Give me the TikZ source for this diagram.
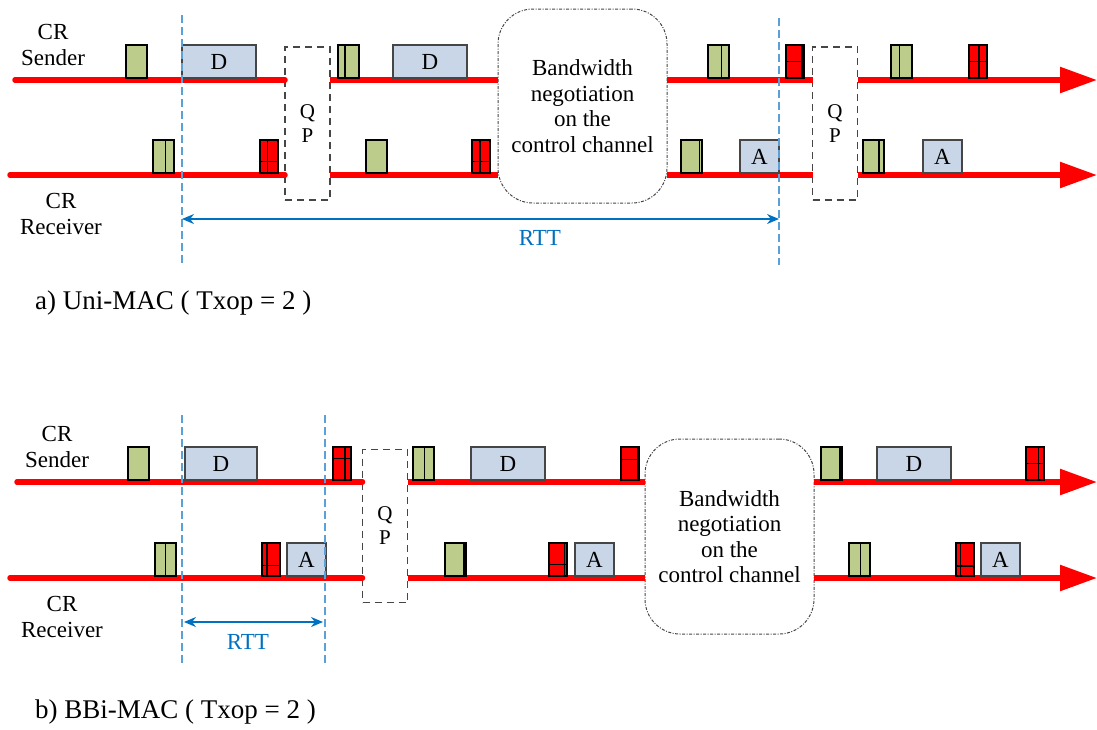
\documentclass[tikz,border=0pt]{standalone}
\usepackage{fontspec}
\setmainfont{Liberation Serif}
\definecolor{pktgreen}{RGB}{187,204,139}
\definecolor{pktblue}{RGB}{200,214,231}
\definecolor{rttblue}{RGB}{0,112,192}
\definecolor{markblue}{RGB}{91,160,215}
\definecolor{boxgrey}{RGB}{70,70,70}
\usepackage{tikz}
\usetikzlibrary{arrows.meta,positioning,calc}

\begin{document}
\begin{tikzpicture}[x=1pt,y=-1pt,
        lab/.style={font=\fontsize{23}{26}\selectfont,align=center,inner sep=0pt},
        caption/.style={font=\fontsize{27}{30}\selectfont,anchor=west,inner sep=0pt},
        pkt/.style={draw=black,line width=1.2pt,anchor=south west,inner sep=0pt,outer sep=0pt,
                    minimum height=33pt},
        gpkt/.style={pkt,fill=pktgreen,minimum width=21pt},
        gline/.style={path picture={\draw[line width=1.6pt]
            ($(path picture bounding box.south west)!#1!(path picture bounding box.south east)$) --
            ($(path picture bounding box.north west)!#1!(path picture bounding box.north east)$);}},
        rpkt/.style 2 args={pkt,fill=red,minimum width=18pt,path picture={
            \draw[line width=1.4pt]
            ($(path picture bounding box.south west)!#1!(path picture bounding box.south east)$) --
            ($(path picture bounding box.north west)!#1!(path picture bounding box.north east)$);
            \draw[line width=1.4pt]
            ($(path picture bounding box.north west)!#2!(path picture bounding box.south west)$) --
            ($(path picture bounding box.north east)!#2!(path picture bounding box.south east)$);}},
        dpkt/.style={pkt,draw=boxgrey,fill=pktblue,minimum width=74pt,
                     font=\fontsize{23}{26}\selectfont},
        apkt/.style={dpkt,minimum width=39pt},
        qpbox/.style={draw=boxgrey,line width=1.5pt,dash pattern=on 7pt off 5pt,
                      minimum width=45pt,minimum height=153pt,inner sep=0pt,outer sep=0pt,
                      align=center,font=\fontsize{21}{24}\selectfont},
        bwbox/.style={draw=boxgrey,line width=1pt,rounded corners=35pt,
                      dash pattern=on 3pt off 1.5pt on 1pt off 1.5pt,
                      minimum width=169pt,minimum height=194pt,inner sep=0pt,outer sep=0pt,
                      align=center,font=\fontsize{23}{25.5}\selectfont},
        chan/.style={draw=red,line width=5.5pt},
        chanarrow/.style={chan,-{Triangle[length=37pt,width=25pt]}},
        marker/.style={draw=markblue,line width=1.2pt,dash pattern=on 8pt off 4pt},
        rtt/.style={draw=rttblue,line width=1.3pt,
                    {Stealth[length=12pt,width=10pt]}-{Stealth[length=12pt,width=10pt]}}
    ]
    \useasboundingbox (0,0) rectangle (1097,729);

    % a) Uni-MAC
    \node[lab] (snda) at (53,45) {CR\\Sender};
    \node[lab] (rcva) at (61,214) {CR\\Receiver};
    \node[qpbox] (qp1) at (307.5,123.5) {Q\\P};
    \node[bwbox] (bw1) at (582.5,106) {Bandwidth\\negotiation\\on the\\control channel};
    \node[qpbox] (qp2) at (835,123.5) {Q\\P};

    \coordinate (sa0) at (15,80);
    \coordinate (saE) at (1097,80);
    \coordinate (ra0) at (10,175);
    \coordinate (raE) at (1097,175);
    \draw[chan,line cap=round] (sa0) -- (sa0 -| qp1.west);
    \draw[chan] (sa0 -| qp1.east) -- (sa0 -| bw1.west) (sa0 -| bw1.east) -- (sa0 -| qp2.west);
    \draw[chanarrow] (sa0 -| qp2.east) -- (saE);
    \draw[chan,line cap=round] (ra0) -- (ra0 -| qp1.west);
    \draw[chan] (ra0 -| qp1.east) -- (ra0 -| bw1.west) (ra0 -| bw1.east) -- (ra0 -| qp2.west);
    \draw[chanarrow] (ra0 -| qp2.east) -- (raE);

    % sender packets
    \node[gpkt] (sa1) at (126,78) {};
    \node[dpkt] (sa2) at (182,78) {D};
    \node[gpkt,gline=0.33] (sa3) at (338,78) {};
    \node[dpkt] (sa4) at (393,78) {D};
    \node[gpkt,gline=0.64] (sa5) at (708,78) {};
    \node[rpkt={0.88}{0.5}] (sa6) at (786,78) {};
    \node[gpkt,gline=0.41] (sa7) at (891,78) {};
    \node[rpkt={0.55}{0.5}] (sa8) at (969,78) {};
    % receiver packets
    \node[gpkt,gline=0.6] (ra1) at (153,173) {};
    \node[rpkt={0.4}{0.65}] (ra2) at (260,173) {};
    \node[gpkt] (ra3) at (366,173) {};
    \node[rpkt={0.45}{0.65}] (ra4) at (472,173) {};
    \node[gpkt,gline=0.88] (ra5) at (681,173) {};
    \node[apkt] (ra6) at (740,173) {A};
    \node[gpkt,gline=0.77] (ra7) at (863,173) {};
    \node[apkt] (ra8) at (923,173) {A};

    % RTT
    \coordinate (va1) at (182,15);
    \coordinate (va1b) at (182,265);
    \coordinate (va2) at (779,18);
    \coordinate (va2b) at (779,265);
    \draw[marker] (va1) -- (va1b);
    \draw[marker] (va2) -- (va2b);
    \coordinate (ta1) at (182,219);
    \coordinate (ta2) at (779,219);
    \draw[rtt] (ta1) -- (ta2);
    \node[lab,text=rttblue] (rtta) at (540,238) {RTT};
    \node[caption] (capa) at (35,303) {a) Uni-MAC ( Txop = 2 )};

    % b) BBi-MAC
    \node[lab] (sndb) at (57,447) {CR\\Sender};
    \node[lab] (rcvb) at (62,617) {CR\\Receiver};
    \node[qpbox] (qp3) at (385,526) {Q\\P};
    \node[bwbox,minimum height=195pt] (bw2) at (729.5,536.5) {Bandwidth\\negotiation\\on the\\control channel};

    \coordinate (sb0) at (17,482);
    \coordinate (sbE) at (1097,482);
    \coordinate (rb0) at (10,578);
    \coordinate (rbE) at (1097,578);
    \draw[chan,line cap=round] (sb0) -- (sb0 -| qp3.west);
    \draw[chan] (sb0 -| qp3.east) -- (sb0 -| bw2.west);
    \draw[chanarrow] (sb0 -| bw2.east) -- (sbE);
    \draw[chan,line cap=round] (rb0) -- (rb0 -| qp3.west);
    \draw[chan] (rb0 -| qp3.east) -- (rb0 -| bw2.west);
    \draw[chanarrow] (rb0 -| bw2.east) -- (rbE);

    % sender packets
    \node[gpkt] (sb1) at (128,480) {};
    \node[dpkt,minimum width=72pt] (sb2) at (185,480) {D};
    \node[rpkt={0.66}{0.35}] (sb3) at (333,480) {};
    \node[gpkt,gline=0.55] (sb4) at (413,480) {};
    \node[dpkt] (sb5) at (471,480) {D};
    \node[rpkt={0.95}{0.38}] (sb6) at (621,480) {};
    \node[gpkt,gline=0.9] (sb7) at (821,480) {};
    \node[dpkt] (sb8) at (877,480) {D};
    \node[rpkt={0.7}{0.5}] (sb9) at (1026,480) {};
    % receiver packets
    \node[gpkt,gline=0.5] (rb1) at (155,576) {};
    \node[rpkt={0.28}{0.68}] (rb2) at (262,576) {};
    \node[apkt] (rb3) at (287,576) {A};
    \node[gpkt,gline=0.9] (rb4) at (445,576) {};
    \node[rpkt={0.85}{0.65}] (rb5) at (549,576) {};
    \node[apkt] (rb6) at (575,576) {A};
    \node[gpkt,gline=0.55] (rb7) at (849,576) {};
    \node[rpkt={0.25}{0.7}] (rb8) at (956,576) {};
    \node[apkt] (rb9) at (981,576) {A};

    % RTT
    \coordinate (vb1) at (182,415);
    \coordinate (vb1b) at (182,665);
    \coordinate (vb2) at (325,415);
    \coordinate (vb2b) at (325,665);
    \draw[marker] (vb1) -- (vb1b);
    \draw[marker] (vb2) -- (vb2b);
    \coordinate (tb1) at (184,622);
    \coordinate (tb2) at (323,622);
    \draw[rtt] (tb1) -- (tb2);
    \node[lab,text=rttblue] (rttb) at (248,642) {RTT};
    \node[caption] (capb) at (35,712) {b) BBi-MAC ( Txop = 2 )};
\end{tikzpicture}
\end{document}
